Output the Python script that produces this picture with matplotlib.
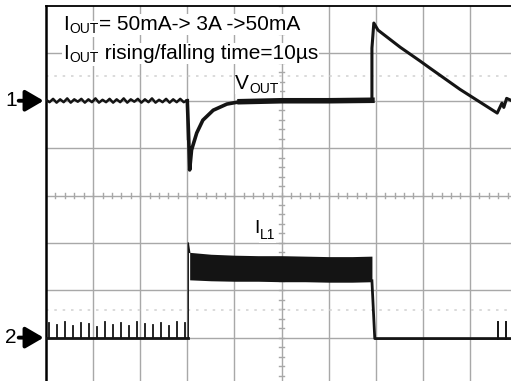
import matplotlib
matplotlib.use("Agg")
import matplotlib.pyplot as plt
import matplotlib.transforms as mtransforms
import numpy as np

plt.rcParams['font.family'] = ['Liberation Sans', 'DejaVu Sans']

# screen is 10 x 8 divisions; all values below are in divisions
# CH1 (VOUT) reference at 6 div, CH2 (IL1) reference at 1 div
ch1_ref = 6.0
ch2_ref = 1.0

# VOUT ripple before the load step (0 .. 3 div)
vout_pre = [6.02, 5.97, 6.04, 5.96, 6.03, 5.97, 6.05, 5.96, 6.03, 5.98,
            6.04, 5.96, 6.03, 5.97, 6.05, 5.96, 6.02, 5.97, 6.04, 5.96,
            6.03, 5.97, 6.05, 5.96, 6.03, 5.98, 6.04, 5.96, 6.03, 5.97,
            6.05, 5.96, 6.02, 5.97, 6.04, 5.96, 6.03, 5.97, 6.04, 5.97, 6.01]

# VOUT undershoot + recovery, flat, overshoot + decay
vout_t = [3.00, 3.03, 3.05, 3.09, 3.20, 3.33, 3.55, 3.84, 4.12, 5.00, 6.00, 6.92,
          6.92, 6.96, 7.05, 7.52, 7.94, 8.15, 8.79, 9.58, 9.68, 9.72, 9.78, 9.87, 10.0]
vout_v = [6.00, 5.20, 4.54, 4.96, 5.32, 5.59, 5.80, 5.93, 5.98, 6.00, 6.00, 6.01,
          7.11, 7.64, 7.49, 7.13, 6.84, 6.69, 6.24, 5.74, 5.95, 5.86, 6.05, 6.01, 5.93]

# IL1 switching spikes at light load
il_spike_t = [0.06, 0.23, 0.40, 0.57, 0.74, 0.91, 1.08, 1.25, 1.42,
              1.59, 1.76, 1.93, 2.10, 2.27, 2.44, 2.61, 2.78, 2.95]
il_spike_h = [0.30, 0.26, 0.33, 0.25, 0.31, 0.28, 0.22, 0.32, 0.27,
              0.30, 0.24, 0.33, 0.29, 0.26, 0.31, 0.25, 0.33, 0.30]
il_spike2_t = [9.60, 9.77]
il_spike2_h = [0.36, 0.36]

# IL1 at 3 A: ripple band envelope
band_t = [3.05, 3.5, 4.0, 4.5, 5.0, 5.5, 6.0, 6.5, 6.92]
band_top = [2.80, 2.76, 2.74, 2.73, 2.73, 2.72, 2.71, 2.71, 2.72]
band_bot = [2.22, 2.20, 2.19, 2.19, 2.18, 2.18, 2.17, 2.17, 2.18]


def rich_text(fig, ax, x, y, parts):
    # parts: (text, fontsize, vertical shift in pixels)
    renderer = fig.canvas.get_renderer()
    dx = 0.0
    box = dict(facecolor='white', edgecolor='none', pad=0.6)
    for s, size, dy in parts:
        tr = mtransforms.offset_copy(ax.transData, fig=fig, x=dx, y=dy, units='dots')
        t = ax.text(x, y, s, fontsize=size, va='baseline', ha='left',
                    transform=tr, bbox=box, zorder=4)
        dx += t.get_window_extent(renderer).width + 0.5


def main():
    fig = plt.figure(figsize=(5.11, 3.81), dpi=100)
    ax = fig.add_axes([46 / 511, -4 / 381, 471 / 511, 379 / 381])
    ax.set_xlim(0, 10)
    ax.set_ylim(0, 8)

    grid_c = '#a8a8a8'
    for gx in range(1, 10):
        ax.axvline(gx, color=grid_c, lw=1.0, zorder=1)
    for gy in range(1, 8):
        ax.axhline(gy, color=grid_c, lw=1.0, zorder=1)
    # minor ticks on centre lines
    for k in np.arange(0, 10.01, 0.2):
        ax.plot([k, k], [3.94, 4.06], color=grid_c, lw=1.0, zorder=1)
    for k in np.arange(0, 8.01, 0.2):
        ax.plot([4.94, 5.06], [k, k], color=grid_c, lw=1.0, zorder=1)
    # faint dotted markers
    for yy in (6.52, 1.58):
        ax.axhline(yy, color='#d4d4d4', lw=1.2, ls=(0, (1.5, 3.5)), zorder=1)

    for s in ('right', 'bottom'):
        ax.spines[s].set_visible(False)
    ax.spines['left'].set_linewidth(1.8)
    ax.spines['top'].set_linewidth(1.3)
    ax.set_xticks([])
    ax.set_yticks([])

    tc = '#141414'
    # VOUT
    ax.plot(np.linspace(0, 3.0, len(vout_pre)), vout_pre, color=tc, lw=1.8, zorder=3)
    ax.plot([3.0, 3.0], [6.0, 5.2], color=tc, lw=1.0, zorder=3)
    ax.plot(vout_t[:12], vout_v[:12], color=tc, lw=2.6, zorder=3)
    ax.plot(vout_t[8:12], vout_v[8:12], color=tc, lw=4.0, zorder=3)
    ax.plot(vout_t[11:], vout_v[11:], color=tc, lw=2.2, zorder=3)

    # IL1
    ax.plot([0, 3.02], [ch2_ref, ch2_ref], color=tc, lw=2.0, zorder=3)
    for t, h in zip(il_spike_t, il_spike_h):
        ax.plot([t, t], [ch2_ref, ch2_ref + h], color=tc, lw=1.3, zorder=3)
    ax.plot([3.02, 3.02, 3.05], [ch2_ref, 3.0, 2.8], color=tc, lw=1.0, zorder=3)
    ax.fill_between(band_t, band_bot, band_top, color=tc, lw=0, zorder=3)
    ax.plot([6.92, 6.98, 10.0], [2.2, 0.98, 0.98], color=tc, lw=2.0, zorder=3)
    for t, h in zip(il_spike2_t, il_spike2_h):
        ax.plot([t, t], [0.98, 0.98 + h], color=tc, lw=1.4, zorder=3)

    rich_text(fig, ax, 0.36, 7.49, [('I', 15, 0), ('OUT', 10, -3),
                                    ('= 50mA-> 3A ->50mA', 15, 0)])
    rich_text(fig, ax, 0.36, 6.88, [('I', 15, 0), ('OUT', 10, -3),
                                    (' rising/falling time=10µs', 15, 0)])
    rich_text(fig, ax, 4.02, 6.24, [('V', 15, 0), ('OUT', 10, -4)])
    rich_text(fig, ax, 4.42, 3.21, [('I', 14, 0), ('L1', 10, -6)])

    # channel markers
    for lab, yy in (('1', ch1_ref), ('2', ch2_ref)):
        ax.text(-0.74, yy, lab, fontsize=15, va='center', ha='center', clip_on=False)
        ax.annotate('', xy=(-0.05, yy), xytext=(-0.58, yy), annotation_clip=False,
                    arrowprops=dict(arrowstyle='-|>,head_length=0.55,head_width=0.32',
                                    mutation_scale=20, lw=2.8, color='black',
                                    shrinkA=0, shrinkB=0))

    fig.savefig("out.png", dpi=100)


if __name__ == '__main__':
    main()
